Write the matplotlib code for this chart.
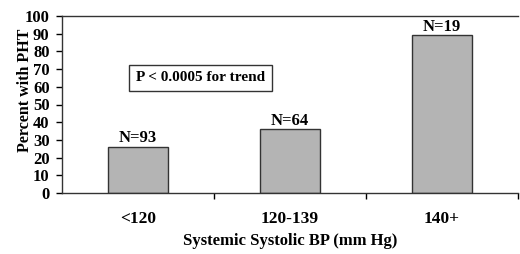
import numpy as np
import matplotlib.pyplot as plt

categories = ['<120', '120-139', '140+']
percent_pht = [26, 36, 89]
n_labels = ['N=93', 'N=64', 'N=19']

plt.rcParams['font.family'] = ['Liberation Serif', 'DejaVu Serif']
plt.rcParams['font.weight'] = 'bold'

fig = plt.figure(figsize=(5.2, 2.54), dpi=100)
ax = fig.add_axes([62/520, 1 - 193/254, 456/520, 177/254])

x = np.arange(len(categories))
bars = ax.bar(x, percent_pht, width=0.4, color='#b4b4b4', edgecolor='#333333', linewidth=1)

for rect, label in zip(bars, n_labels):
    ax.text(rect.get_x() + rect.get_width() / 2, rect.get_height() + 0.3, label,
            ha='center', va='bottom', fontsize=12, fontweight='bold')

ax.set_xlim(-0.5, 2.5)
ax.set_ylim(0, 100)
ax.set_yticks(range(0, 101, 10))
ax.set_xticks([0.5, 1.5, 2.5])
ax.set_xticklabels([])
ax.set_xticks(x, minor=True)
ax.set_xticklabels(categories, minor=True, fontsize=12.5, fontweight='bold')
ax.tick_params(axis='x', which='minor', length=0, pad=13)
ax.tick_params(axis='x', which='major', length=4, direction='out', width=1)
ax.tick_params(axis='y', length=4, direction='out', labelsize=12, pad=5, width=1)
for lbl in ax.get_yticklabels():
    lbl.set_fontweight('bold')

for s in ax.spines.values():
    s.set_linewidth(1)
    s.set_color('#333333')
ax.spines['right'].set_visible(False)

ax.set_xlabel('Systemic Systolic BP (mm Hg)', fontsize=12, fontweight='bold', labelpad=4)
ax.set_ylabel('Percent with PHT', fontsize=11.5, fontweight='bold')
ax.yaxis.set_label_coords(-0.064, 0.58)

ax.text(0.41, 65, 'P < 0.0005 for trend', ha='center', va='center', fontsize=11,
        fontweight='bold',
        bbox=dict(boxstyle='square,pad=0.45', facecolor='white', edgecolor='#333333', linewidth=1))

plt.savefig('out.png', dpi=100)
